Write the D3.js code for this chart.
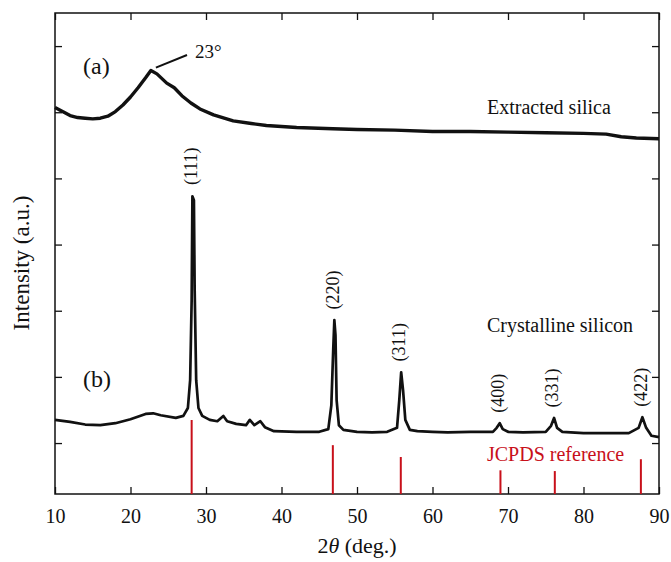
<!DOCTYPE html>
<html>
<head>
<meta charset="utf-8">
<script src="https://cdn.jsdelivr.net/npm/d3@7"></script>
<style>
  body { margin: 0; background: #fff; }
  text { font-family: "Liberation Serif", "Times New Roman", serif; fill: #111; }
</style>
</head>
<body>
<div id="chart"></div>
<script>
// (a) extracted silica: [2theta, intensity]
const silica = [
  [10, 5.07], [11, 5.01], [12, 4.95], [13, 4.92], [14, 4.91], [15, 4.90], [16, 4.91],
  [17, 4.94], [18, 5.01], [19, 5.11], [20, 5.23], [21, 5.37], [22, 5.52], [22.7, 5.63],
  [23.5, 5.58], [24.8, 5.44], [25.8, 5.37], [26.8, 5.25], [28, 5.14], [29.2, 5.05],
  [31, 4.96], [33.6, 4.87], [36, 4.83], [38, 4.80], [42, 4.77], [46.8, 4.75], [50, 4.74],
  [55, 4.73], [60, 4.71], [65, 4.71], [70, 4.70], [75, 4.69], [80, 4.68], [83, 4.67],
  [85, 4.63], [87, 4.61], [90, 4.60]
];

// (b) crystalline silicon: [2theta, intensity]
const silicon = [
  [10, 0.35], [12, 0.32], [14, 0.28], [16, 0.27], [18, 0.30], [20, 0.36], [22, 0.44],
  [23, 0.45], [24, 0.42], [26, 0.38], [27, 0.41], [27.6, 0.53], [27.9, 0.95], [28.1, 2.16],
  [28.2, 3.73], [28.4, 3.67], [28.5, 2.31], [28.7, 0.95], [29, 0.53], [29.5, 0.41],
  [30.5, 0.35], [31.5, 0.33], [32.3, 0.41], [32.8, 0.33], [34, 0.29], [35.3, 0.27],
  [35.8, 0.35], [36.4, 0.27], [37.2, 0.33], [37.8, 0.24], [39, 0.18], [42, 0.17],
  [45, 0.17], [46.2, 0.21], [46.6, 0.57], [46.85, 1.41], [47.0, 1.86], [47.15, 1.63],
  [47.3, 0.65], [47.6, 0.27], [48.2, 0.20], [50, 0.17], [52, 0.16], [54, 0.17],
  [55.3, 0.23], [55.6, 0.65], [55.85, 1.07], [56.1, 0.80], [56.4, 0.35], [57, 0.20],
  [58, 0.18], [60, 0.17], [62, 0.16], [65, 0.17], [68, 0.17], [68.5, 0.23], [68.9, 0.30],
  [69.3, 0.21], [70, 0.17], [72, 0.16], [75, 0.17], [75.7, 0.26], [76.1, 0.38],
  [76.5, 0.23], [77.2, 0.17], [80, 0.15], [83, 0.15], [86, 0.15], [87.3, 0.23],
  [87.8, 0.39], [88.3, 0.23], [89, 0.11], [90, 0.09]
];

// peak labels
const peakLabels = ["(111)", "(220)", "(311)", "(400)", "(331)", "(422)"];
const peakPos = [28.2, 47.0, 55.85, 68.9, 76.1, 87.8];
const peakTop = [3.73, 1.86, 1.07, 0.30, 0.38, 0.39];

// JCPDS reference sticks
const refPos = [28.1, 46.8, 55.8, 69.0, 76.2, 87.6];
const refInt = [100, 66, 50, 32, 31, 47];

const xTicks = [10, 20, 30, 40, 50, 60, 70, 80, 90];
const yTicks = [0, 1, 2, 3, 4, 5, 6];

var width = 671, height = 562;
var margin = { top: 13, right: 12, bottom: 68, left: 55 };
var red = "#c8101a";

var svg = d3.select("#chart").append("svg")
    .attr("width", width)
    .attr("height", height);

var x = d3.scaleLinear().domain([10, 90]).range([margin.left, width - margin.right]);
var y = d3.scaleLinear().domain([-0.77, 6.5]).range([height - margin.bottom, margin.top]);
var yRef = d3.scaleLinear().domain([0, 100]).range([height - margin.bottom, 420]);

// axes, ticks pointing inward
svg.append("g")
    .attr("transform", `translate(0,${height - margin.bottom})`)
    .call(d3.axisBottom(x).tickValues(xTicks).tickSizeInner(-7).tickSizeOuter(0).tickPadding(15))
    .call(g => g.selectAll("text").style("font-size", "20px").attr("font-family", null));
svg.append("g")
    .attr("transform", `translate(0,${margin.top})`)
    .call(d3.axisTop(x).tickValues(xTicks).tickSizeInner(-7).tickSizeOuter(0).tickFormat(""));
svg.append("g")
    .attr("transform", `translate(${margin.left},0)`)
    .call(d3.axisLeft(y).tickValues(yTicks).tickSizeInner(-7).tickSizeOuter(0).tickFormat(""));
svg.append("g")
    .attr("transform", `translate(${width - margin.right},0)`)
    .call(d3.axisRight(y).tickValues(yTicks).tickSizeInner(-7).tickSizeOuter(0).tickFormat(""));
svg.selectAll(".domain").remove();
svg.selectAll(".tick line").attr("stroke", "#111").attr("stroke-width", 1.3);

svg.append("rect")
    .attr("x", margin.left).attr("y", margin.top)
    .attr("width", width - margin.left - margin.right)
    .attr("height", height - margin.top - margin.bottom)
    .attr("fill", "none").attr("stroke", "#111").attr("stroke-width", 1.5);

// reference sticks
svg.selectAll(".ref")
    .data(refPos)
    .enter().append("line")
    .attr("class", "ref")
    .attr("x1", d => x(d)).attr("x2", d => x(d))
    .attr("y1", yRef(0))
    .attr("y2", (d, i) => yRef(refInt[i]))
    .attr("stroke", red).attr("stroke-width", 2);

var line = d3.line().x(d => x(d[0])).y(d => y(d[1]));

svg.append("path").datum(silica)
    .attr("d", line)
    .attr("fill", "none").attr("stroke", "#111")
    .attr("stroke-width", 3.4).attr("stroke-linejoin", "round");

svg.append("path").datum(silicon)
    .attr("d", line)
    .attr("fill", "none").attr("stroke", "#111")
    .attr("stroke-width", 2.7).attr("stroke-linejoin", "round");

// hkl labels
peakLabels.forEach((lab, i) => {
    svg.append("text")
        .attr("transform", `translate(${x(peakPos[i]) - 2},${y(peakTop[i]) - 30}) rotate(-90)`)
        .attr("text-anchor", "middle")
        .attr("dy", "0.35em")
        .style("font-size", "18px")
        .text(lab);
});

// annotations
svg.append("text").attr("x", 83).attr("y", 74).style("font-size", "24px").text("(a)");
svg.append("text").attr("x", 83).attr("y", 387).style("font-size", "24px").text("(b)");
svg.append("line")
    .attr("x1", x(22.7) + 5).attr("y1", y(5.63) - 3)
    .attr("x2", 187).attr("y2", 55)
    .attr("stroke", "#111").attr("stroke-width", 2);
svg.append("text").attr("x", 195).attr("y", 58).style("font-size", "19px").text("23°");

svg.append("text").attr("x", 487).attr("y", 114).style("font-size", "20px").text("Extracted silica");
svg.append("text").attr("x", 487).attr("y", 332).style("font-size", "20px").text("Crystalline silicon");
svg.append("text").attr("x", 487).attr("y", 461).style("font-size", "20px")
    .style("fill", red).text("JCPDS reference");

// axis titles
var xt = svg.append("text")
    .attr("x", (margin.left + width - margin.right) / 2)
    .attr("y", 553)
    .attr("text-anchor", "middle")
    .style("font-size", "22px");
xt.append("tspan").text("2");
xt.append("tspan").style("font-style", "italic").text("θ");
xt.append("tspan").text(" (deg.)");

svg.append("text")
    .attr("transform", `translate(29,263) rotate(-90)`)
    .attr("text-anchor", "middle")
    .style("font-size", "23px")
    .text("Intensity (a.u.)");
</script>
</body>
</html>
